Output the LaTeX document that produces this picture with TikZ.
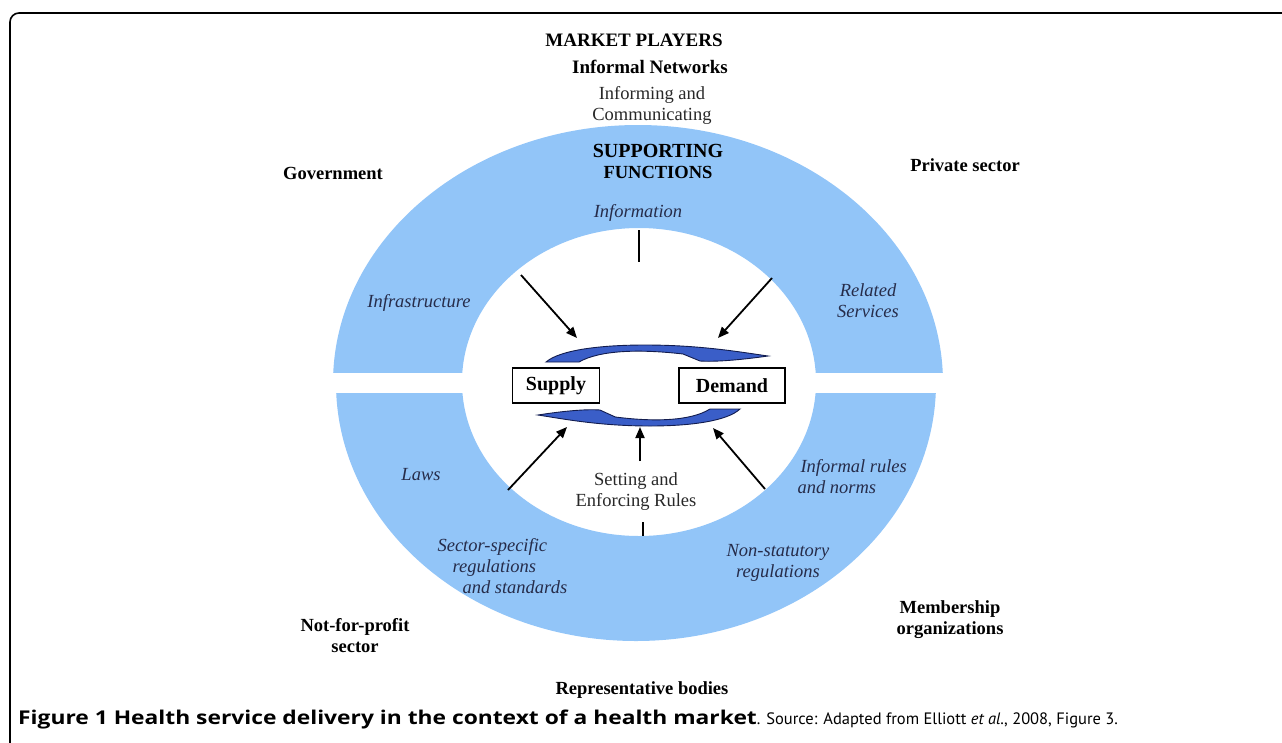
\documentclass[tikz,border=0pt]{standalone}
\usepackage{graphicx}
\usepackage{fontspec}
\setmainfont{Liberation Serif}
\newfontfamily\capfont{PT Sans}
\newfontfamily\capbold{Open Sans}
\usetikzlibrary{arrows.meta}
\definecolor{ring_blue}{RGB}{146, 197, 248}
\definecolor{loop_blue}{RGB}{58, 94, 200}
\definecolor{loop_edge}{RGB}{18, 28, 78}
\definecolor{fn_text}{RGB}{38, 44, 74}
\definecolor{soft_black}{RGB}{40, 40, 40}
\tikzstyle{pl}=[font=\fontsize{18.5}{21}\selectfont\bfseries,align=center,text=black]
\tikzstyle{fn}=[font=\fontsize{18.5}{21}\selectfont\itshape,align=center,text=fn_text]
\tikzstyle{rm}=[font=\fontsize{18.5}{21}\selectfont,align=center,text=soft_black]
\tikzstyle{mk}=[rectangle,draw=black,fill=white,line width=1.5pt,
  minimum height=35pt,inner sep=2pt,font=\fontsize{20}{24}\selectfont\bfseries]
\tikzstyle{arr}=[-{Triangle[length=11pt,width=9pt]},line width=1.8pt]
\tikzstyle{tick}=[line width=1.6pt]
\tikzstyle{none}=[inner sep=0pt]

\begin{document}
\begin{tikzpicture}[x=1pt, y=-1pt]
  \useasboundingbox (0,0) rectangle (1282,742);
  \draw [line width=1.6pt, rounded corners=9pt] (10,750) -- (10,13) -- (1290,13);
  % two halves of the ring
  \begin{scope}
    \clip (0,0) rectangle (1282,372);
    \fill [ring_blue, even odd rule] (638,383) ellipse [x radius=305, y radius=258]
      (639,382) ellipse [x radius=177, y radius=154];
  \end{scope}
  \begin{scope}
    \clip (0,393) rectangle (1282,742);
    \fill [ring_blue, even odd rule] (636,383) ellipse [x radius=300, y radius=258]
      (639,382) ellipse [x radius=177, y radius=154];
  \end{scope}
  % curved loop arrows between supply and demand
  \begin{scope}[shift={(657,355)}]
    \filldraw [fill=loop_blue, draw=loop_edge, line width=0.9pt]
      (-111,7) .. controls (-97,-5) and (-57,-10) .. (-12,-10)
      .. controls (43,-10) and (83,-3) .. (111,1)
      .. controls (83,5) and (58,7) .. (43,6)
      -- (26,-1) .. controls (-17,-6) and (-57,-5) .. (-78,7) -- cycle;
  \end{scope}
  \begin{scope}[shift={(639,416)}, rotate=180, xscale=0.91]
    \filldraw [fill=loop_blue, draw=loop_edge, line width=0.9pt]
      (-111,7) .. controls (-97,-5) and (-57,-10) .. (-12,-10)
      .. controls (43,-10) and (83,-3) .. (111,1)
      .. controls (83,5) and (58,7) .. (43,6)
      -- (26,-1) .. controls (-17,-6) and (-57,-5) .. (-78,7) -- cycle;
  \end{scope}

  \node [style=pl] (0) at (634,40) {\fontsize{19}{21}\selectfont MARKET PLAYERS};
  \node [style=pl] (1) at (650,67) {\fontsize{19}{21}\selectfont Informal Networks};
  \node [style=rm] (2) at (652,105) {Informing and\\Communicating};
  \node [style=pl] (3) at (658,161) {\fontsize{20}{22}\selectfont SUPPORTING\\FUNCTIONS};
  \node [style=fn] (4) at (638,213) {Information};
  \node [style=pl] (5) at (333,173) {Government};
  \node [style=pl] (6) at (965,165) {Private sector};
  \node [style=fn] (7) at (419,303) {Infrastructure};
  \node [style=fn] (8) at (868,301) {Related\\Services};
  \node [style=mk, minimum width=87pt] (9) at (556,385.5) {Supply};
  \node [style=mk, minimum width=106pt] (10) at (732,385.5) {Demand};
  \node [style=rm] (11) at (636,492) {Setting and\\Enforcing Rules};
  \node [style=fn] (12) at (421,475) {Laws};
  \node [style=fn, anchor=west, align=left] (13) at (434,566)
    {Sector-specific\\\hspace{15pt}regulations\\\hspace{25pt}and standards};
  \node [style=fn, anchor=west, align=left] (14) at (794,477)
    {\hspace{3pt}Informal rules\\and norms};
  \node [style=fn] (15) at (778,563) {Non-statutory\\regulations};
  \node [style=pl] (16) at (950,620) {Membership\\organizations};
  \node [style=pl] (17) at (355,636) {Not-for-profit\\sector};
  \node [style=pl] (18) at (642,690) {Representative bodies};
  \node [anchor=west, inner sep=0pt, font=\capfont\fontsize{16.5}{18}\selectfont] (19) at (18,720)
    {\scalebox{1.2}[1]{\capbold\fontsize{19}{20}\selectfont\bfseries Figure 1 Health service delivery in the context of a health market}. Source: Adapted from Elliott \textit{et al.}, 2008, Figure 3.};

  \node [style=none] (20) at (521,275) {};
  \node [style=none] (21) at (577,338) {};
  \node [style=none] (22) at (772,278) {};
  \node [style=none] (23) at (718,338) {};
  \node [style=none] (24) at (508,490) {};
  \node [style=none] (25) at (567,427) {};
  \node [style=none] (26) at (640,461) {};
  \node [style=none] (27) at (640,427) {};
  \node [style=none] (28) at (765,489) {};
  \node [style=none] (29) at (713,428) {};
  \node [style=none] (30) at (639,230) {};
  \node [style=none] (31) at (639,262) {};
  \node [style=none] (32) at (643,522) {};
  \node [style=none] (33) at (643,536) {};

  \draw [style=arr] (20.center) to (21.center);
  \draw [style=arr] (22.center) to (23.center);
  \draw [style=arr] (24.center) to (25.center);
  \draw [style=arr] (26.center) to (27.center);
  \draw [style=arr] (28.center) to (29.center);
  \draw [style=tick] (30.center) to (31.center);
  \draw [style=tick] (32.center) to (33.center);
\end{tikzpicture}
\end{document}
